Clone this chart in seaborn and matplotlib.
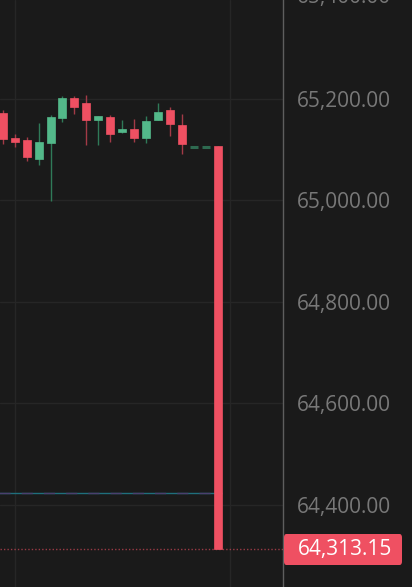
import matplotlib.pyplot as plt
import seaborn as sns
from matplotlib.patches import FancyBboxPatch

# candle data (index = position on the time axis)
opens = [65173, 65123, 65119, 65081, 65114, 65163, 65202, 65192, 65158, 65165,
         65134, 65141, 65123, 65158, 65178, 65149, 65106, 65106, 65107]
highs = [65178, 65131, 65125, 65152, 65169, 65205, 65205, 65208, 65167, 65169,
         65159, 65161, 65167, 65193, 65184, 65171, 65106, 65106, 65107]
lows = [65111, 65106, 65077, 65069, 64999, 65155, 65171, 65109, 65110, 65116,
        65132, 65116, 65114, 65158, 65127, 65092, 65106, 65106, 64313.15]
closes = [65122, 65116, 65085, 65116, 65165, 65202, 65185, 65158, 65167, 65131,
          65141, 65124, 65156, 65175, 65150, 65111, 65106, 65106, 64313.15]
empty = [16, 17]  # no-trade candles drawn as flat dashes

last_price = 64313.15
indicator_level = 64424
price_ticks = [64400, 64600, 64800, 65000, 65200]
grid_x = [1, 19]

BG = '#1a1a1a'
GREEN = '#53b98a'
RED = '#ef5062'
FS = 15

sns.set_style('dark', {'axes.facecolor': BG, 'figure.facecolor': BG})
plt.rcParams['font.family'] = ['Open Sans', 'DejaVu Sans']

fig = plt.figure(figsize=(4.12, 5.87), dpi=100)
ax = fig.add_axes([0, 0, 283 / 412, 1])

for i, (o, h, l, c) in enumerate(zip(opens, highs, lows, closes)):
    if i in empty:
        ax.hlines(o, i - 0.34, i + 0.34, color='#2e6a50', lw=2.2)
        continue
    up = c >= o
    col = GREEN if up else RED
    wick = '#2f7a58' if up else '#a33a47'
    ax.vlines(i, l, h, color=wick, lw=1, zorder=2)
    ax.bar(i, abs(c - o) or 4, bottom=min(o, c), width=0.67, color=col,
           edgecolor=col, lw=0.5, zorder=3)

# indicator line (two colours alternating)
ax.hlines(indicator_level, -0.5, 18.3, color='#1f6f7c', lw=1)
ax.hlines(indicator_level, -0.5, 18.3, color='#4b3f6e', lw=1,
          linestyles=(0, (8, 8)))

# last price line
ax.axhline(last_price, color=RED, lw=1, ls=(0, (1, 1.5)), alpha=0.6)

ax.set_xlim(-0.226, 23.44)
ax.set_ylim(64238.4, 65395)
ax.set_yticks(price_ticks)
ax.set_yticklabels([f'{v:,.2f}' for v in price_ticks])
ax.set_xticks(grid_x)
ax.set_xticklabels([])
ax.yaxis.tick_right()
ax.tick_params(axis='y', length=0, pad=10, labelsize=FS, labelcolor='#787878')
ax.tick_params(axis='x', length=0)
ax.grid(True, color='#262626', lw=1)
for side in ['top', 'left', 'bottom']:
    ax.spines[side].set_visible(False)
ax.spines['right'].set_color('#5e5e5e')
ax.spines['right'].set_linewidth(1)

# partially hidden top label, cut by the top edge as in the source
ax.text(1 + 14 / 283, 65400, '65,400.00', transform=ax.get_yaxis_transform(),
        ha='left', va='center', fontsize=FS, color='#787878', clip_on=False)

# last price badge
box = FancyBboxPatch((284 / 412, 1 - 565 / 587), 118 / 412, 31 / 587,
                     boxstyle='round,pad=0,rounding_size=0.006',
                     transform=fig.transFigure, facecolor=RED, edgecolor='none')
fig.patches.append(box)
fig.text(345 / 412, 1 - 549.5 / 587, f'{last_price:,.2f}', ha='center', va='center',
         fontsize=FS, color='white')

fig.savefig('out.png', dpi=100, facecolor=BG)
